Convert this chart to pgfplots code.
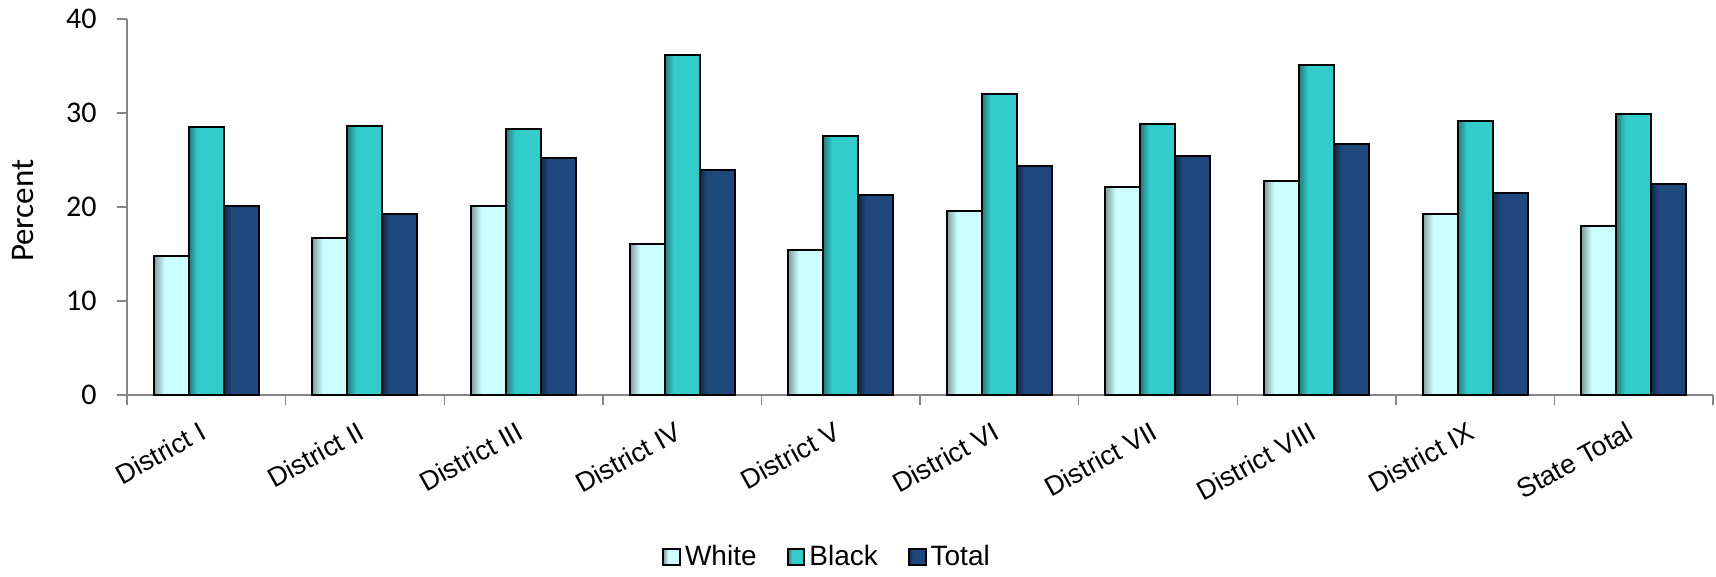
\documentclass[border=0pt]{standalone}
\usepackage{pgfplots}
\pgfplotsset{compat=1.18}
\usepackage{fontspec}
\setmainfont{Liberation Sans}
\newfontfamily\carlito{Carlito}
\definecolor{whiteL}{HTML}{CCFFFF}
\definecolor{whiteD}{HTML}{7F9C9C}
\definecolor{blackL}{HTML}{33CCCC}
\definecolor{blackD}{HTML}{1E7D7D}
\definecolor{totalL}{HTML}{1F497D}
\definecolor{totalD}{HTML}{10284A}
\definecolor{axisgray}{HTML}{868686}
\pgfdeclarehorizontalshading{shW}{100bp}{color(0bp)=(whiteD); color(25bp)=(whiteD); color(40bp)=(whiteL); color(100bp)=(whiteL)}
\pgfdeclarehorizontalshading{shB}{100bp}{color(0bp)=(blackD); color(25bp)=(blackD); color(38bp)=(blackL); color(100bp)=(blackL)}
\pgfdeclarehorizontalshading{shT}{100bp}{color(0bp)=(totalD); color(25bp)=(totalD); color(36bp)=(totalL); color(100bp)=(totalL)}
\pgfplotsset{
  sqlegend/.style={legend image code/.code={\draw[##1, line width=1bp] (0bp,-4.2bp) rectangle (8.4bp,4.2bp);}},
  barW/.style={forget plot, draw=black, line width=1bp, shading=shW, bar shift=-17.5bp},
  barB/.style={forget plot, draw=black, line width=1bp, shading=shB, bar shift=0bp},
  barT/.style={forget plot, draw=black, line width=1bp, shading=shT, bar shift=17.5bp},
}
% one group: x position, White, Black, Total
\newcommand{\group}[4]{%
  \addplot[barW] coordinates {(#1,#2)};
  \addplot[barB] coordinates {(#1,#3)};
  \addplot[barT] coordinates {(#1,#4)};
}
\begin{document}
\begin{tikzpicture}
\begin{axis}[
  name=a,
  scale only axis,
  width=793bp, height=188bp,
  xmin=0, xmax=10, ymin=0, ymax=40,
  ybar=0pt, bar width=17.5bp,
  axis lines*=left,
  axis line style={axisgray, line width=0.7bp},
  tick align=outside,
  major tick length=5bp, minor tick length=5bp,
  tick style={axisgray, line width=0.7bp},
  xtick={0.5,1.5,...,9.5},
  xticklabels={District I, District II, District III, District IV, District V, District VI, District VII, District VIII, District IX, State Total},
  major x tick style={draw=none},
  minor xtick={0,1,...,10},
  xticklabel style={font=\fontsize{13.5bp}{16bp}\selectfont, inner sep=0pt, anchor=north east, yshift=-7.6bp, xshift=-4bp, rotate=29},
  ytick={0,10,20,30,40},
  yticklabel style={font=\carlito\fontsize{15bp}{18bp}\selectfont, inner sep=0pt, xshift=-10bp},
  /pgf/number format/assume math mode=true,
  ylabel={Percent},
  every axis y label/.style={at={(rel axis cs:0,0.49)}, anchor=center, xshift=-52bp, rotate=90, font=\carlito\fontsize{16.5bp}{19bp}\selectfont},
  legend style={at={(0.442,-0.431)}, anchor=center, draw=none, legend columns=-1,
    font=\fontsize{14bp}{16bp}\selectfont,
    /tikz/every even column/.append style={column sep=13bp}},
]
\group{0.5}{14.8}{28.5}{20.1}
\group{1.5}{16.7}{28.6}{19.3}
\group{2.5}{20.1}{28.3}{25.2}
\group{3.5}{16.1}{36.2}{23.9}
\group{4.5}{15.4}{27.6}{21.3}
\group{5.5}{19.6}{32.0}{24.4}
\group{6.5}{22.1}{28.8}{25.4}
\group{7.5}{22.8}{35.1}{26.7}
\group{8.5}{19.3}{29.1}{21.5}
\group{9.5}{18.0}{29.9}{22.5}
\addlegendimage{sqlegend, draw=black, line width=1bp, shading=shW}
\addlegendentry{White}
\addlegendimage{sqlegend, draw=black, line width=1bp, shading=shB}
\addlegendentry{Black}
\addlegendimage{sqlegend, draw=black, line width=1bp, shading=shT}
\addlegendentry{Total}
\end{axis}
\path ([xshift=-63.5bp, yshift=-91bp]a.south west) rectangle ([xshift=1.5bp, yshift=9.5bp]a.north east);
\end{tikzpicture}
\end{document}
